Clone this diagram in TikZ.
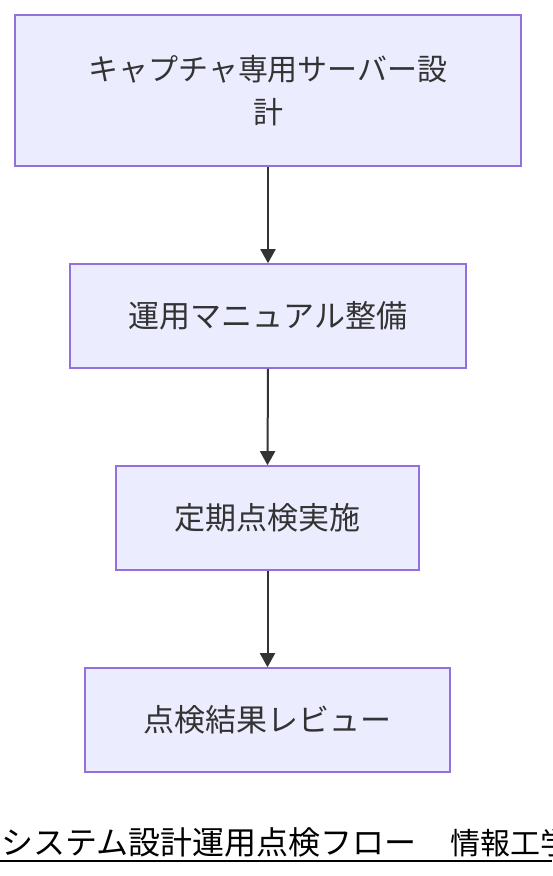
\documentclass[tikz,border=0pt]{standalone}
\usepackage{fontspec}
\setmainfont{Noto Sans CJK JP}
\usetikzlibrary{arrows.meta}
\definecolor{boxfill}{HTML}{ECECFF}
\definecolor{boxline}{HTML}{9370DB}
\definecolor{txt}{HTML}{333333}
\tikzset{
  flowbox/.style={draw=boxline, fill=boxfill, line width=1.6pt, rectangle, align=center,
    text=txt, font=\fontsize{31}{43}\selectfont, inner sep=0pt},
  flowarrow/.style={draw=txt, line width=2pt, -{Triangle[length=14pt,width=15pt]}}
}
\begin{document}
\begin{tikzpicture}[x=1pt,y=-1pt]
\path[use as bounding box, clip] (0,0) rectangle (552,876);
\fill[white] (0,0) rectangle (552,876);
\node[flowbox, font=\fontsize{30}{43}\selectfont, minimum width=506pt, minimum height=151pt] (a) at (268,90.5) {キャプチャ専用サーバー設\\計};
\node[flowbox, minimum width=396pt, minimum height=104pt] (b) at (268,316) {運用マニュアル整備};
\node[flowbox, minimum width=303pt, minimum height=104pt] (c) at (267.5,518) {定期点検実施};
\node[flowbox, minimum width=365pt, minimum height=104pt] (d) at (267.5,720) {点検結果レビュー};
\draw[flowarrow] (a.south) -- (b.north);
\draw[flowarrow] (b.south) -- (c.north);
\draw[flowarrow] (c.south) -- (d.north);
\node[anchor=base west, inner sep=0pt, font=\fontsize{32}{36}\selectfont, text=black] (title) at (1,854) {システム設計運用点検フロー\hspace{34pt}{\fontsize{30}{36}\selectfont 情報工学}};
\coordinate (ul0) at (0,861);
\coordinate (ul1) at (552,861);
\draw[line width=2pt, black] (ul0) -- (ul1);
\end{tikzpicture}
\end{document}
